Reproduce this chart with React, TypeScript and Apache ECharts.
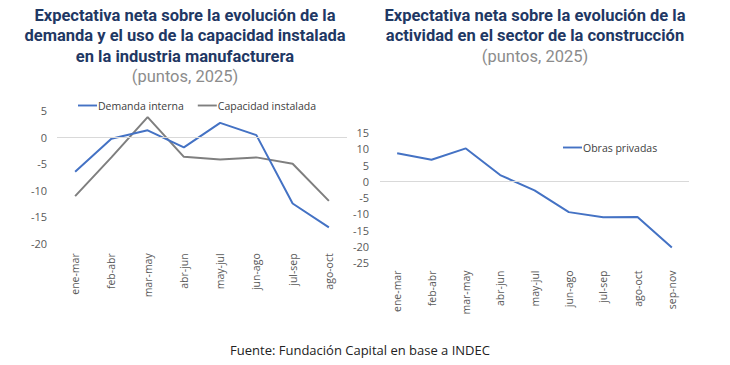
import React, { useEffect, useRef } from "react";
import * as echarts from "echarts";

const leftCategories = ["ene-mar", "feb-abr", "mar-may", "abr-jun", "may-jul", "jun-ago", "jul-sep", "ago-oct"];
const demandaInterna = [-6.5, -0.3, 1.3, -1.9, 2.7, 0.4, -12.5, -17.0];
const capacidadInstalada = [-11.1, -3.8, 3.8, -3.7, -4.2, -3.8, -5.0, -12.0];

const rightCategories = ["ene-mar", "feb-abr", "mar-may", "abr-jun", "may-jul", "jun-ago", "jul-sep", "ago-oct", "sep-nov"];
const obrasPrivadas = [8.6, 6.6, 10.1, 1.9, -2.8, -9.5, -11.1, -11.0, -20.4];

const leftTitle = "Expectativa neta sobre la evolución de la\ndemanda y el uso de la capacidad instalada\nen la industria manufacturera";
const rightTitle = "Expectativa neta sobre la evolución de la\nactividad en el sector de la construcción";
const subtitle = "(puntos, 2025)";
const source = "Fuente: Fundación Capital en base a INDEC";

const TITLE_FONT = "'Liberation Sans Narrow', 'Roboto', sans-serif";
const LABEL_FONT = "'Open Sans', 'Noto Sans', sans-serif";
const BLUE = "#4472C4";
const GRAY = "#7F7F7F";
const NAVY = "#1F3864";
const AXIS_TXT = "#595959";
const LINE_ICON = "path://M0,0 L20,0 L20,2 L0,2 Z";

export default function App() {
  const ref = useRef<HTMLDivElement>(null);
  useEffect(() => {
    if (!ref.current) return;
    const chart = echarts.init(ref.current, null, { renderer: "svg" });
    const zeroLine = {
      silent: true,
      symbol: "none",
      label: { show: false },
      lineStyle: { color: "#D9D9D9", type: "solid", width: 1 },
      data: [{ yAxis: 0 }],
    };
    chart.setOption({
      animation: false,
      backgroundColor: "#ffffff",
      title: [
        {
          text: leftTitle,
          subtext: subtitle,
          left: 180,
          top: 0,
          textAlign: "center",
          itemGap: 0,
          textStyle: { fontFamily: TITLE_FONT, fontSize: 16.5, fontWeight: "bold", color: NAVY, lineHeight: 20.5, align: "center" },
          subtextStyle: { fontFamily: TITLE_FONT, fontSize: 16.5, color: "#8C8C8C", lineHeight: 20 },
        },
        {
          text: rightTitle,
          subtext: subtitle,
          left: 530,
          top: 0,
          textAlign: "center",
          itemGap: 0,
          textStyle: { fontFamily: TITLE_FONT, fontSize: 16.5, fontWeight: "bold", color: NAVY, lineHeight: 20.5, align: "center" },
          subtextStyle: { fontFamily: TITLE_FONT, fontSize: 16.5, color: "#8C8C8C", lineHeight: 20 },
        },
        {
          text: source,
          left: 355,
          top: 338,
          textAlign: "center",
          textStyle: { fontFamily: LABEL_FONT, fontSize: 13, fontWeight: "normal", color: "#222222" },
        },
      ],
      legend: [
        {
          data: ["Demanda interna", "Capacidad instalada"],
          left: 73,
          top: 95,
          icon: LINE_ICON,
          itemWidth: 19,
          itemHeight: 2,
          itemGap: 14,
          textStyle: { fontFamily: LABEL_FONT, fontSize: 10.5, color: "#404040", padding: [0, 0, 0, -4] },
        },
        {
          data: ["Obras privadas"],
          left: 558,
          top: 137,
          icon: LINE_ICON,
          itemWidth: 19,
          itemHeight: 2,
          textStyle: { fontFamily: LABEL_FONT, fontSize: 10.5, color: "#404040", padding: [0, 0, 0, -4] },
        },
      ],
      grid: [
        { left: 57, width: 290, top: 110.7, height: 132.6 },
        { left: 380, width: 309, top: 132.5, height: 130 },
      ],
      xAxis: [
        {
          type: "category",
          gridIndex: 0,
          data: leftCategories,
          boundaryGap: true,
          axisLine: { show: false },
          axisTick: { show: false },
          axisLabel: { rotate: 90, interval: 0, margin: 10, fontFamily: LABEL_FONT, fontSize: 10.5, color: AXIS_TXT },
        },
        {
          type: "category",
          gridIndex: 1,
          data: rightCategories,
          boundaryGap: true,
          axisLine: { show: false },
          axisTick: { show: false },
          axisLabel: { rotate: 90, interval: 0, margin: 8, fontFamily: LABEL_FONT, fontSize: 10.5, color: AXIS_TXT },
        },
      ],
      yAxis: [
        {
          type: "value",
          gridIndex: 0,
          min: -20,
          max: 5,
          interval: 5,
          splitLine: { show: false },
          axisLine: { show: false },
          axisTick: { show: false },
          axisLabel: { margin: 10, fontFamily: LABEL_FONT, fontSize: 11, color: AXIS_TXT },
        },
        {
          type: "value",
          gridIndex: 1,
          min: -25,
          max: 15,
          interval: 5,
          splitLine: { show: false },
          axisLine: { show: false },
          axisTick: { show: false },
          axisLabel: { margin: 11, fontFamily: LABEL_FONT, fontSize: 11, color: AXIS_TXT },
        },
      ],
      series: [
        {
          name: "Demanda interna",
          type: "line",
          xAxisIndex: 0,
          yAxisIndex: 0,
          data: demandaInterna,
          symbol: "none",
          lineStyle: { color: BLUE, width: 2 },
          itemStyle: { color: BLUE },
          markLine: zeroLine,
          z: 3,
        },
        {
          name: "Capacidad instalada",
          type: "line",
          xAxisIndex: 0,
          yAxisIndex: 0,
          data: capacidadInstalada,
          symbol: "none",
          lineStyle: { color: GRAY, width: 2 },
          itemStyle: { color: GRAY },
          z: 2,
        },
        {
          name: "Obras privadas",
          type: "line",
          xAxisIndex: 1,
          yAxisIndex: 1,
          data: obrasPrivadas,
          symbol: "none",
          lineStyle: { color: BLUE, width: 2 },
          itemStyle: { color: BLUE },
          markLine: zeroLine,
        },
      ],
    });
    return () => chart.dispose();
  }, []);
  return <div ref={ref} style={{ width: 730, height: 365, position: "absolute", left: 0, top: 0 }} />;
}
